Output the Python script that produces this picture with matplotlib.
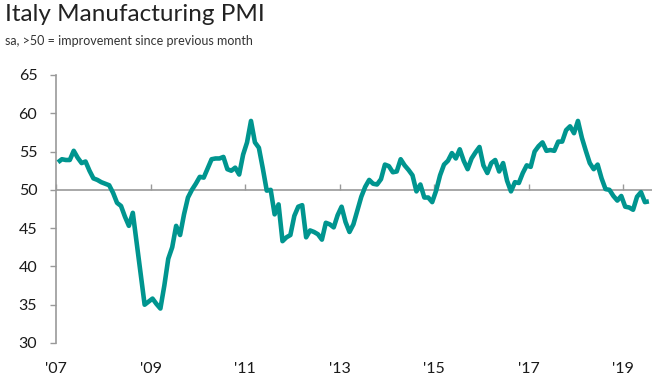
import matplotlib.pyplot as plt
import numpy as np

# Italy manufacturing PMI, monthly, Jan 2007 - Jul 2019
pmi_2007 = [53.6, 54.0, 53.9, 53.9, 55.1, 54.2, 53.5, 53.7, 52.5, 51.5, 51.3, 51.0]
pmi_2008 = [50.8, 50.6, 49.6, 48.3, 47.9, 46.5, 45.3, 47.0, 43.0, 39.0, 35.0, 35.4]
pmi_2009 = [35.8, 35.1, 34.5, 37.5, 41.0, 42.5, 45.3, 44.1, 46.8, 49.0, 50.0, 50.8]
pmi_2010 = [51.7, 51.6, 52.8, 54.0, 54.1, 54.1, 54.3, 52.7, 52.5, 52.9, 52.0, 54.6]
pmi_2011 = [56.2, 59.0, 56.2, 55.5, 52.8, 49.9, 50.0, 46.8, 48.1, 43.3, 43.8, 44.1]
pmi_2012 = [46.6, 47.8, 48.0, 43.8, 44.7, 44.5, 44.2, 43.5, 45.7, 45.5, 45.1, 46.7]
pmi_2013 = [47.8, 45.8, 44.5, 45.5, 47.3, 49.1, 50.4, 51.3, 50.8, 50.7, 51.4, 53.3]
pmi_2014 = [53.1, 52.3, 52.4, 54.0, 53.2, 52.6, 51.9, 49.8, 50.7, 49.0, 49.0, 48.4]
pmi_2015 = [49.9, 51.9, 53.3, 53.8, 54.8, 54.1, 55.3, 53.8, 52.7, 54.1, 54.9, 55.6]
pmi_2016 = [53.2, 52.2, 53.5, 53.9, 52.4, 53.5, 51.2, 49.8, 51.0, 50.9, 52.2, 53.2]
pmi_2017 = [53.0, 55.0, 55.7, 56.2, 55.1, 55.2, 55.1, 56.3, 56.3, 57.8, 58.3, 57.4]
pmi_2018 = [59.0, 56.8, 55.1, 53.5, 52.7, 53.3, 51.5, 50.1, 50.0, 49.2, 48.6, 49.2]
pmi_2019 = [47.8, 47.7, 47.4, 49.1, 49.7, 48.4, 48.5]

pmi = (pmi_2007 + pmi_2008 + pmi_2009 + pmi_2010 + pmi_2011 + pmi_2012 + pmi_2013
       + pmi_2014 + pmi_2015 + pmi_2016 + pmi_2017 + pmi_2018 + pmi_2019)

tick_labels = ["'07", "'09", "'11", "'13", "'15", "'17", "'19"]
y_ticks = [30, 35, 40, 45, 50, 55, 60, 65]

# x in months since Jan 2007, points sit mid-month
months = np.arange(len(pmi)) + 0.5
year_ticks = np.arange(len(tick_labels)) * 24

plt.rcParams['font.family'] = ['Lato', 'DejaVu Sans']

fig = plt.figure(figsize=(6.55, 3.88), dpi=100)
ax = fig.add_axes([56 / 655, 45 / 388, 596 / 655, 268 / 388])

ax.plot(months, pmi, color='#00958f', lw=3.3, solid_joinstyle='round',
        solid_capstyle='butt', zorder=3)

ax.set_xlim(0, 151.3)
ax.set_ylim(30, 65)

ax.set_yticks(y_ticks)
ax.tick_params(axis='y', length=4.5, width=1, color='#999999', pad=9,
               labelsize=11.5, labelcolor='#1a1a1a')

ax.set_xticks(year_ticks)
ax.set_xticklabels(tick_labels)
ax.tick_params(axis='x', length=0, pad=14, labelsize=11.5, labelcolor='#1a1a1a')

for side in ['top', 'right', 'bottom']:
    ax.spines[side].set_visible(False)
ax.spines['left'].set_color('#999999')
ax.spines['left'].set_linewidth(1.2)

# grey axis line at 50 with small downward ticks
ax.axhline(50, color='#999999', lw=1.2, zorder=2)
sec = ax.secondary_xaxis((50 - 30) / (65 - 30))
sec.set_xticks(year_ticks)
sec.set_xticklabels([])
sec.tick_params(axis='x', length=4, width=1, color='#999999', direction='out')
for sp in sec.spines.values():
    sp.set_visible(False)

fig.text(5 / 655, 1 - 4 / 388, 'Italy Manufacturing PMI', ha='left', va='top',
         fontsize=17.5, color='#222222')
fig.text(5 / 655, 1 - 35 / 388, 'sa, >50 = improvement since previous month',
         ha='left', va='top', fontsize=9, color='#333333')

fig.savefig('out.png', dpi=100)
